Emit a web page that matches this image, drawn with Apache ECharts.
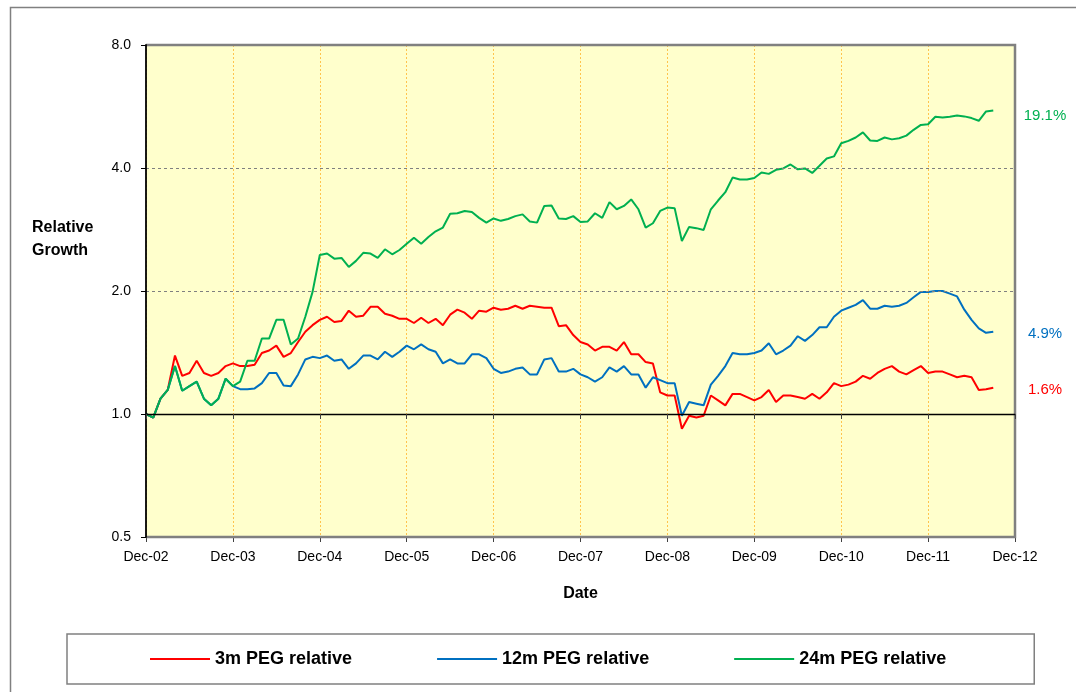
<!DOCTYPE html>
<html>
<head>
<meta charset="utf-8">
<script src="https://cdn.jsdelivr.net/npm/echarts@6/dist/echarts.min.js"></script>
<style>
html,body{margin:0;padding:0;background:#fff;}
#chart{width:1076px;height:692px;}
</style>
</head>
<body>
<div id="chart"></div>
<script>
// Tick labels for the x axis (one per December, every 12 months)
const xTickLabels = ['Dec-02','Dec-03','Dec-04','Dec-05','Dec-06','Dec-07','Dec-08','Dec-09','Dec-10','Dec-11','Dec-12'];
const seriesNames = ['3m PEG relative','12m PEG relative','24m PEG relative'];
const endLabels = ['1.6%','4.9%','19.1%'];

// Monthly values starting Dec-02 (month 0)
const peg3m = [
1.00,0.98,1.09,1.145,1.39,1.24,1.26,1.35,1.26,1.24,1.26,1.31,
1.33,1.31,1.31,1.32,1.41,1.43,1.47,1.38,1.41,1.50,1.59,1.65,
1.70,1.73,1.68,1.69,1.79,1.73,1.74,1.83,1.83,1.76,1.74,1.71,
1.71,1.67,1.72,1.67,1.71,1.65,1.75,1.80,1.77,1.71,1.79,1.78,
1.82,1.80,1.81,1.84,1.81,1.84,1.83,1.82,1.82,1.64,1.65,1.56,
1.50,1.48,1.43,1.46,1.46,1.43,1.50,1.40,1.40,1.34,1.33,1.13,
1.11,1.11,0.92,0.99,0.98,0.99,1.11,1.08,1.05,1.12,1.12,1.10,
1.08,1.10,1.145,1.07,1.11,1.11,1.10,1.09,1.12,1.09,1.13,1.19,
1.17,1.18,1.20,1.24,1.22,1.26,1.29,1.31,1.27,1.25,1.28,1.31,
1.26,1.27,1.27,1.25,1.23,1.24,1.23,1.145,1.15,1.16
];
const peg12m = [
1.00,0.98,1.09,1.145,1.31,1.14,1.17,1.20,1.09,1.05,1.09,1.22,
1.17,1.15,1.15,1.155,1.19,1.26,1.26,1.175,1.17,1.25,1.36,1.38,
1.37,1.39,1.35,1.36,1.29,1.33,1.39,1.39,1.36,1.42,1.38,1.42,
1.47,1.44,1.48,1.44,1.42,1.33,1.36,1.33,1.33,1.40,1.40,1.37,
1.29,1.26,1.27,1.29,1.30,1.25,1.25,1.36,1.37,1.27,1.27,1.29,
1.25,1.23,1.20,1.23,1.30,1.27,1.31,1.25,1.25,1.16,1.23,1.21,
1.19,1.19,0.99,1.07,1.06,1.05,1.18,1.24,1.31,1.41,1.40,1.40,
1.41,1.43,1.49,1.40,1.43,1.47,1.55,1.51,1.56,1.63,1.63,1.73,
1.79,1.82,1.85,1.90,1.81,1.81,1.84,1.83,1.84,1.87,1.93,1.99,
1.99,2.00,2.00,1.97,1.94,1.80,1.70,1.62,1.58,1.59
];
const peg24m = [
1.00,0.98,1.09,1.145,1.31,1.14,1.17,1.20,1.09,1.05,1.09,1.22,
1.17,1.20,1.35,1.35,1.53,1.53,1.70,1.70,1.48,1.53,1.73,1.99,
2.45,2.47,2.40,2.41,2.29,2.37,2.48,2.47,2.41,2.53,2.46,2.52,
2.61,2.70,2.61,2.71,2.80,2.86,3.09,3.10,3.14,3.12,3.02,2.94,
3.01,2.97,3.00,3.05,3.08,2.96,2.94,3.23,3.24,3.01,3.00,3.05,
2.95,2.96,3.10,3.02,3.30,3.17,3.23,3.35,3.17,2.86,2.93,3.14,
3.20,3.19,2.65,2.87,2.85,2.82,3.17,3.33,3.49,3.79,3.75,3.75,
3.78,3.90,3.87,3.96,3.99,4.08,3.97,3.99,3.89,4.05,4.22,4.27,
4.60,4.66,4.75,4.89,4.67,4.66,4.75,4.70,4.73,4.80,4.96,5.10,
5.12,5.34,5.32,5.34,5.38,5.35,5.30,5.22,5.50,5.53
];

const colors = ['#FF0000','#0070C0','#00B050'];
const allData = [peg3m, peg12m, peg24m];
const FONT = '"Liberation Sans", Arial, sans-serif';

const chart = echarts.init(document.getElementById('chart'), null, {renderer:'canvas'});

function toPairs(arr){ return arr.map((v,i)=>[i,v]); }

const W = 1076, H = 692;
const gridL = 146, gridT = 45, gridR = 61, gridB = 155;
const plotR = W - gridR, plotB = H - gridB;

const baseGraphic = [
  {type:'rect', left:8, top:5, silent:true, z:-10,
   shape:{width:1200, height:800}, style:{fill:'none', stroke:'#808080', lineWidth:1.5}},
  {type:'text', left:32, top:216, silent:true,
   style:{text:'Relative\nGrowth', font:'bold 16px '+FONT, fill:'#000', lineHeight:23}},
  // plot area frame (top, right, bottom)
  {type:'polyline', silent:true, z:50,
   shape:{points:[[gridL,gridT],[plotR,gridT],[plotR,plotB],[gridL,plotB]]},
   style:{fill:'none', stroke:'#808080', lineWidth:2.5}}
];

const option = {
  animation:false,
  backgroundColor:'#ffffff',
  textStyle:{fontFamily:FONT},
  grid:{left:gridL, top:gridT, right:gridR, bottom:gridB, show:true,
        backgroundColor:'#FFFFCC', borderWidth:0},
  xAxis:[{
    type:'value', min:0, max:120, interval:12,
    name:'Date', nameLocation:'middle', nameGap:49,
    nameTextStyle:{fontFamily:FONT, fontSize:16, fontWeight:'bold', color:'#000'},
    axisLine:{show:false},
    axisTick:{show:true, length:5, lineStyle:{color:'#404040'}},
    axisLabel:{fontFamily:FONT, fontSize:14, color:'#000', margin:13,
      formatter:(v)=> xTickLabels[Math.round(v/12)] || ''},
    splitLine:{show:true, lineStyle:{color:'#FFC44D', type:[2,2], width:1}}
  },{
    type:'value', min:0, max:120, interval:12, position:'bottom', offset:0,
    axisLine:{show:true, lineStyle:{color:'#000', width:1.3}},
    axisTick:{show:true, length:5, lineStyle:{color:'#404040'}},
    axisLabel:{show:false}, splitLine:{show:false},
    z:70
  }],
  yAxis:{
    type:'log', logBase:2, min:0.5, max:8,
    axisLine:{show:true, lineStyle:{color:'#000', width:1.8}},
    axisTick:{show:true, length:5, inside:false, lineStyle:{color:'#000'}},
    axisLabel:{fontFamily:FONT, fontSize:14, color:'#000', margin:15,
      formatter:(v)=> Number(v).toFixed(1)},
    splitLine:{show:true, lineStyle:{color:'#808080', type:[3,3], width:1}},
    z:60
  },
  legend:{
    left:67, top:634,
    padding:[16,88,16,83],
    borderColor:'#808080', borderWidth:1.5,
    itemGap:85, itemWidth:60, itemHeight:2,
    icon:'rect',
    textStyle:{fontFamily:FONT, fontSize:18, fontWeight:'bold', color:'#000'},
    data:seriesNames
  },
  graphic:baseGraphic,
  series: allData.map((arr,i)=>({
    name:seriesNames[i], type:'line', data:toPairs(arr),
    showSymbol:false, symbol:'none',
    lineStyle:{color:colors[i], width:2},
    itemStyle:{color:colors[i]},
    z:2+i
  }))
};
chart.setOption(option);

// Place the 1.0 crossing axis and the end labels using the library's scales
const yOne = chart.convertToPixel({yAxisIndex:0}, 1);
const extra = [];
allData.forEach((arr,i)=>{
  const last = arr.length-1;
  const p = chart.convertToPixel({xAxisIndex:0, yAxisIndex:0}, [last, arr[last]]);
  extra.push({type:'text', x:1045, y:p[1] + (i===2 ? 5 : 2), silent:true,
    style:{text:endLabels[i], font:'15px '+FONT, fill:colors[i], align:'center', verticalAlign:'middle'}});
});
chart.setOption({
  xAxis:[{},{offset: yOne - plotB}],
  graphic: baseGraphic.concat(extra)
});
</script>
</body>
</html>
